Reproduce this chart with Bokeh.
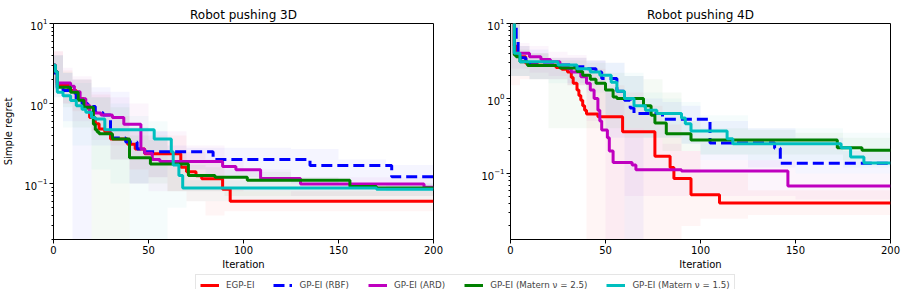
from bokeh.plotting import figure
from bokeh.models import ColumnDataSource, Range1d, FixedTicker, Legend, LegendItem
from bokeh.layouts import column, row
from bokeh.embed import file_html
from bokeh.resources import INLINE

FONT = "DejaVu Sans"
NAMES = ["EGP-EI", "GP-EI (RBF)", "GP-EI (ARD)", "GP-EI (Matern ν = 2.5)", "GP-EI (Matern ν = 1.5)"]
COLORS = ["#ff0000", "#0000ff", "#bf00bf", "#008000", "#00bfbf"]
DASHES = ["solid", "11 5", "solid", "solid", "solid"]
X_TICKS = [0, 50, 100, 150, 200]
Y_TICKS = [0.1, 1, 10]
Y_MINOR = [0.02, 0.03, 0.04, 0.05, 0.06, 0.07, 0.08, 0.09,
           0.2, 0.3, 0.4, 0.5, 0.6, 0.7, 0.8, 0.9,
           2, 3, 4, 5, 6, 7, 8, 9]

# ---------------- Robot pushing 3D (step change points: iteration, mean simple regret)
L_EGP_X = [0, 1, 2, 8, 12, 16, 19, 22, 24, 27, 30, 39, 43, 48, 67, 70, 75, 78, 89, 93]
L_EGP_Y = [3.0, 2.5, 1.7, 1.45, 1.15, 0.87, 0.67, 0.56, 0.48, 0.44, 0.36, 0.31, 0.27, 0.235, 0.16, 0.14, 0.125, 0.115, 0.085, 0.06]
L_RBF_X = [0, 1, 2, 5, 9, 12, 15, 18, 22, 26, 30, 31, 38, 44, 46, 84, 135, 178]
L_RBF_Y = [3.0, 2.2, 1.55, 1.45, 1.35, 1.15, 1.0, 0.92, 0.77, 0.72, 0.42, 0.37, 0.33, 0.27, 0.25, 0.2, 0.168, 0.122]
L_ARD_X = [0, 1, 2, 9, 11, 14, 17, 19, 25, 31, 37, 46, 48, 52, 56, 89, 96, 109, 130, 195]
L_ARD_Y = [3.0, 2.5, 1.8, 1.65, 1.4, 1.15, 0.95, 0.76, 0.72, 0.67, 0.55, 0.27, 0.24, 0.2, 0.188, 0.163, 0.149, 0.116, 0.099, 0.09]
L_M25_X = [0, 1, 2, 9, 13, 16, 21, 22, 23, 24, 31, 40, 51, 71, 85, 102, 156, 170]
L_M25_Y = [3.0, 2.5, 1.6, 1.38, 1.1, 0.9, 0.55, 0.47, 0.44, 0.42, 0.36, 0.21, 0.176, 0.126, 0.12, 0.11, 0.092, 0.088]
L_M15_X = [0, 1, 2, 5, 9, 12, 15, 17, 20, 22, 27, 53, 62, 63, 66, 68, 170]
L_M15_Y = [3.0, 2.5, 1.38, 1.25, 1.09, 0.94, 0.85, 0.78, 0.67, 0.64, 0.47, 0.36, 0.25, 0.17, 0.126, 0.088, 0.085]

# ---------------- Robot pushing 4D
R_EGP_X = [0, 2, 3, 5, 8, 14, 24, 27, 30, 32, 33, 35, 36, 37, 38, 39, 40, 46, 59, 76, 84, 86, 95, 110]
R_EGP_Y = [12, 5.0, 3.9, 3.6, 2.95, 2.78, 2.6, 2.45, 2.26, 1.9, 1.6, 1.3, 1.1, 0.95, 0.8, 0.7, 0.62, 0.57, 0.36, 0.17, 0.12, 0.086, 0.052, 0.0405]
R_RBF_X = [0, 3, 4, 5, 8, 10, 32, 40, 45, 48, 56, 60, 63, 65, 80, 105, 139, 142]
R_RBF_Y = [12, 6.0, 4.2, 3.5, 3.3, 2.8, 2.65, 2.5, 2.25, 1.85, 1.25, 0.95, 0.75, 0.63, 0.53, 0.255, 0.218, 0.137]
R_ARD_X = [0, 2, 10, 16, 21, 26, 30, 32, 37, 40, 42, 44, 46, 47, 48, 51, 52, 54, 64, 66, 90, 146]
R_ARD_Y = [12, 4.0, 3.6, 3.3, 3.1, 2.75, 2.5, 2.26, 1.95, 1.6, 1.3, 1.0, 0.7, 0.5, 0.38, 0.3, 0.2, 0.14, 0.13, 0.112, 0.108, 0.068]
R_M25_X = [0, 2, 3, 5, 9, 26, 35, 38, 42, 45, 50, 54, 56, 70, 74, 76, 82, 95, 172, 185]
R_M25_Y = [12, 3.8, 3.6, 3.1, 2.75, 2.55, 2.3, 2.05, 1.8, 1.6, 1.3, 1.05, 1.0, 0.8, 0.6, 0.47, 0.34, 0.28, 0.22, 0.205]
R_M15_X = [0, 2, 5, 25, 35, 42, 47, 53, 56, 60, 65, 71, 77, 90, 92, 95, 114, 117, 174, 179, 186]
R_M15_Y = [12, 4.0, 3.1, 2.8, 2.5, 2.25, 2.05, 1.65, 1.25, 1.0, 0.8, 0.7, 0.63, 0.55, 0.46, 0.37, 0.29, 0.25, 0.22, 0.166, 0.138]

# ---------------- spread bands (coarse step envelopes)
BAND_X = [0, 5, 10, 20, 30, 40, 50, 60, 70, 80, 90, 100, 125, 150, 175, 200]
L_EGP_HI = [4.5, 2.6, 2.0, 1.3, 0.7, 0.5, 0.4, 0.4, 0.25, 0.2, 0.085, 0.08, 0.08, 0.08, 0.08, 0.08]
L_EGP_LO = [1.8, 1.0, 0.8, 0.45, 0.2, 0.15, 0.12, 0.08, 0.06, 0.04, 0.045, 0.045, 0.045, 0.045, 0.045, 0.045]
L_RBF_HI = [4.0, 2.4, 2.0, 1.6, 1.4, 0.5, 0.45, 0.3, 0.28, 0.28, 0.28, 0.28, 0.27, 0.2, 0.17, 0.17]
L_RBF_LO = [1.5, 0.6, 0.01, 0.3, 0.2, 0.1, 0.12, 0.15, 0.15, 0.12, 0.12, 0.12, 0.1, 0.1, 0.08, 0.08]
L_ARD_HI = [4.5, 2.8, 2.2, 1.4, 1.2, 1.0, 0.45, 0.45, 0.3, 0.3, 0.2, 0.15, 0.12, 0.12, 0.12, 0.12]
L_ARD_LO = [1.2, 1.0, 0.6, 0.35, 0.3, 0.1, 0.08, 0.08, 0.08, 0.08, 0.08, 0.08, 0.07, 0.07, 0.07, 0.07]
L_M25_HI = [4.0, 2.5, 2.0, 1.2, 0.9, 0.4, 0.35, 0.25, 0.17, 0.16, 0.15, 0.14, 0.12, 0.1, 0.1, 0.1]
L_M25_LO = [1.5, 0.9, 0.5, 0.01, 0.01, 0.1, 0.1, 0.08, 0.08, 0.08, 0.07, 0.07, 0.07, 0.07, 0.07, 0.07]
L_M15_HI = [4.0, 2.4, 1.8, 1.2, 1.0, 0.7, 0.6, 0.15, 0.11, 0.11, 0.11, 0.11, 0.11, 0.1, 0.1, 0.1]
L_M15_LO = [1.2, 0.5, 0.3, 0.15, 0.1, 0.01, 0.01, 0.05, 0.06, 0.06, 0.06, 0.06, 0.06, 0.06, 0.06, 0.06]

R_EGP_HI = [10, 5, 4, 3.5, 3.5, 2.5, 1.5, 1.2, 0.8, 0.45, 0.2, 0.1, 0.06, 0.06, 0.06, 0.06]
R_EGP_LO = [1.5, 1.8, 1.8, 1.8, 1.5, 0.01, 0.01, 0.01, 0.01, 0.01, 0.02, 0.025, 0.028, 0.028, 0.028, 0.028]
R_RBF_HI = [10, 5, 4.5, 3.5, 3.5, 3.2, 3.0, 2.0, 1.0, 0.9, 0.8, 0.5, 0.4, 0.3, 0.2, 0.2]
R_RBF_LO = [2.0, 2.0, 1.8, 1.8, 1.6, 1.5, 0.3, 0.01, 0.3, 0.3, 0.25, 0.15, 0.12, 0.1, 0.1, 0.1]
R_ARD_HI = [10, 5.5, 5, 4.2, 3.8, 3.2, 1.2, 0.4, 0.3, 0.25, 0.2, 0.15, 0.15, 0.1, 0.1, 0.1]
R_ARD_LO = [2.5, 2.5, 2.2, 2.0, 1.5, 0.5, 0.01, 0.05, 0.05, 0.05, 0.05, 0.05, 0.05, 0.045, 0.045, 0.045]
R_M25_HI = [10, 4.5, 4, 3.2, 3.2, 3.0, 2.2, 2.0, 1.8, 1.2, 0.5, 0.4, 0.38, 0.35, 0.3, 0.28]
R_M25_LO = [2.0, 2.0, 1.8, 0.4, 0.4, 0.4, 0.4, 0.3, 0.3, 0.2, 0.2, 0.18, 0.18, 0.18, 0.15, 0.15]
R_M15_HI = [10, 5, 4, 3.5, 3.5, 3.2, 3.0, 2.2, 1.2, 1.0, 0.9, 0.6, 0.4, 0.4, 0.35, 0.2]
R_M15_LO = [2.0, 2.0, 1.8, 1.6, 1.5, 1.2, 0.6, 0.4, 0.3, 0.3, 0.25, 0.18, 0.15, 0.15, 0.12, 0.1]

LEFT_LINES = [(L_EGP_X, L_EGP_Y), (L_RBF_X, L_RBF_Y), (L_ARD_X, L_ARD_Y), (L_M25_X, L_M25_Y), (L_M15_X, L_M15_Y)]
LEFT_BANDS = [(L_EGP_LO, L_EGP_HI), (L_RBF_LO, L_RBF_HI), (L_ARD_LO, L_ARD_HI), (L_M25_LO, L_M25_HI), (L_M15_LO, L_M15_HI)]
RIGHT_LINES = [(R_EGP_X, R_EGP_Y), (R_RBF_X, R_RBF_Y), (R_ARD_X, R_ARD_Y), (R_M25_X, R_M25_Y), (R_M15_X, R_M15_Y)]
RIGHT_BANDS = [(R_EGP_LO, R_EGP_HI), (R_RBF_LO, R_RBF_HI), (R_ARD_LO, R_ARD_HI), (R_M25_LO, R_M25_HI), (R_M15_LO, R_M15_HI)]


def make_plot(title, lines, bands, ymin, bl, br, ylabel):
    p = figure(frame_width=380, frame_height=216,
               x_range=Range1d(0, 200), y_range=Range1d(ymin, 10),
               y_axis_type="log", output_backend="svg", toolbar_location=None,
               min_border_left=bl, min_border_right=br,
               min_border_top=23, min_border_bottom=32)
    p.title.text = title
    p.title.text_font = FONT
    p.title.text_font_size = "12px"
    p.title.text_font_style = "normal"
    p.title.text_color = "black"
    p.title.align = "center"
    p.title.standoff = 4
    p.xgrid.visible = False
    p.ygrid.visible = False
    p.outline_line_color = "black"
    p.outline_line_alpha = 1
    p.outline_line_width = 1
    p.background_fill_color = "white"
    p.border_fill_color = "white"
    for (lo, hi), c in zip(bands, COLORS):
        src = ColumnDataSource(dict(x=BAND_X, lo=lo, hi=hi))
        p.varea_step(x="x", y1="lo", y2="hi", source=src, step_mode="after",
                     fill_color=c, fill_alpha=0.04)
    for (xs, ys), c, d in zip(lines, COLORS, DASHES):
        src = ColumnDataSource(dict(x=list(xs) + [200], y=list(ys) + [ys[-1]]))
        p.step(x="x", y="y", source=src, mode="after", line_color=c,
               line_width=3, line_dash=d)
    p.xaxis.ticker = FixedTicker(ticks=X_TICKS, minor_ticks=[])
    p.yaxis.ticker = FixedTicker(ticks=Y_TICKS, minor_ticks=Y_MINOR)
    p.xaxis.axis_label = "Iteration"
    if ylabel:
        p.yaxis.axis_label = ylabel
    for ax in p.axis:
        ax.major_label_text_font = FONT
        ax.major_label_text_font_size = "10px"
        ax.major_label_text_color = "black"
        ax.axis_label_text_font = FONT
        ax.axis_label_text_font_size = "10px"
        ax.axis_label_text_font_style = "normal"
        ax.axis_label_text_color = "black"
        ax.axis_label_standoff = 2
        ax.major_label_standoff = 2
        ax.axis_line_color = "black"
        ax.major_tick_line_color = "black"
        ax.minor_tick_line_color = "black"
        ax.major_tick_in = 0
        ax.major_tick_out = 4
        ax.minor_tick_in = 0
        ax.minor_tick_out = 2
    p.yaxis.axis_label_standoff = 7
    return p


p1 = make_plot("Robot pushing 3D", LEFT_LINES, LEFT_BANDS, 0.02, 53, 12, "Simple regret")
p2 = make_plot("Robot pushing 4D", RIGHT_LINES, RIGHT_BANDS, 0.0132, 65, 16, None)

pl = figure(width=906, height=18, x_range=Range1d(0, 1), y_range=Range1d(0, 1),
            output_backend="svg", toolbar_location=None,
            x_axis_location=None, y_axis_location=None, min_border=0)
pl.outline_line_color = None
pl.grid.visible = False
items = []
for n, c, d in zip(NAMES, COLORS, DASHES):
    # dummy off-range renderer only used for the legend swatch
    r = pl.line(x=[-5, -4], y=[-5, -5], line_color=c, line_width=3, line_dash=d)
    items.append(LegendItem(label=n, renderers=[r]))
leg = Legend(items=items, orientation="horizontal", location=(195, -6),
             label_text_font=FONT, label_text_font_size="8.7px",
             glyph_width=19, glyph_height=12, label_height=12,
             label_standoff=7, spacing=19,
             padding=4, margin=0, border_line_color="#cccccc",
             background_fill_color="white", background_fill_alpha=1)
pl.add_layout(leg)

layout = column(row(p1, p2), pl)
open("out.html", "w").write(file_html(layout, INLINE))
